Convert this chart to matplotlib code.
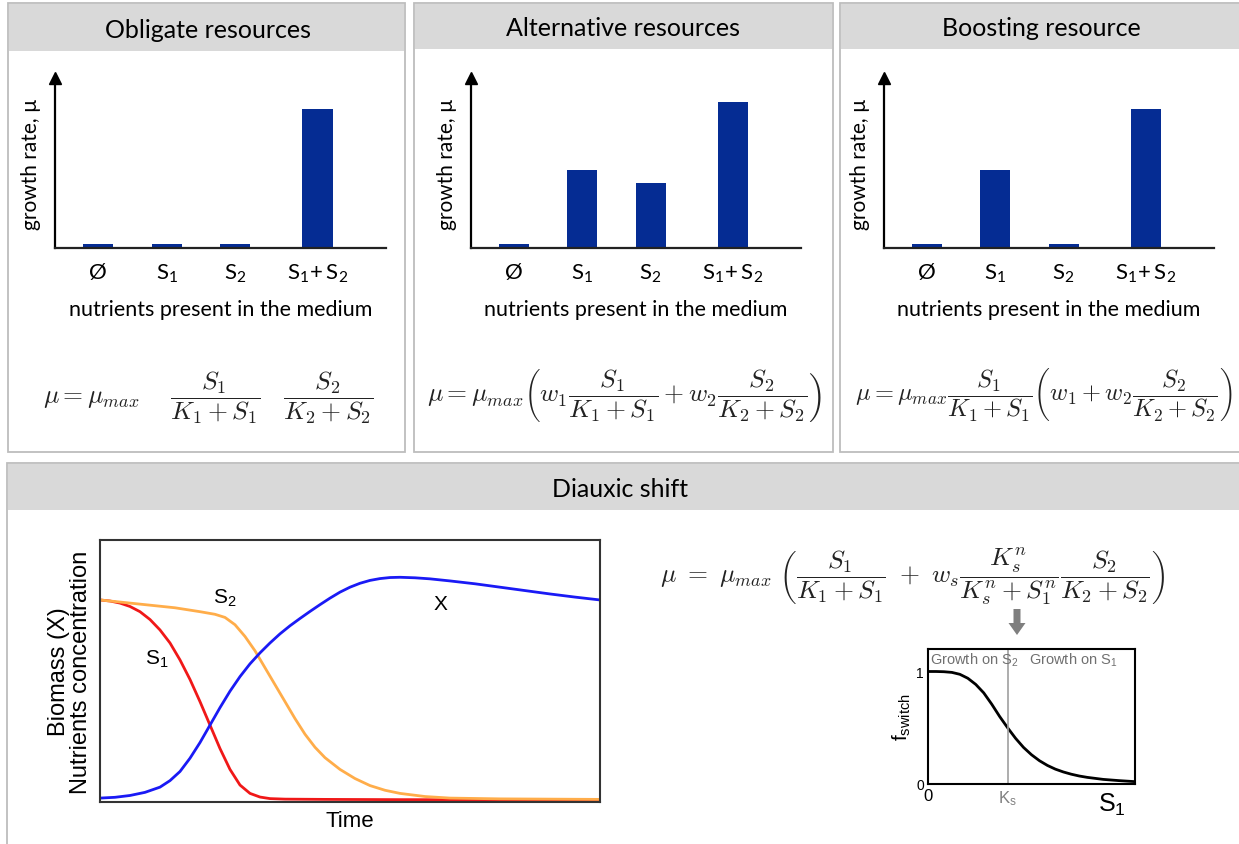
import matplotlib
matplotlib.use("Agg")
import matplotlib.pyplot as plt
from matplotlib.patches import Rectangle

# ---------------- data ----------------
categories = ["Ø", r"$\mathregular{S_1}$", r"$\mathregular{S_2}$", r"$\mathregular{S_1\!+S_2}$"]
obligate_mu = [0.024, 0.024, 0.024, 0.82]
alternative_mu = [0.024, 0.46, 0.38, 0.86]
boosting_mu = [0.024, 0.46, 0.024, 0.82]
panel_titles = ["Obligate resources", "Alternative resources", "Boosting resource"]

s1_time = [0, 2, 4, 6, 8, 10, 12, 14, 16, 18, 20, 22, 24, 26, 28, 30, 32, 34, 37, 45, 60, 100]
s1_conc = [0.77, 0.766, 0.758, 0.745, 0.725, 0.695, 0.655, 0.605, 0.54, 0.465, 0.38, 0.29,
           0.20, 0.12, 0.06, 0.028, 0.014, 0.008, 0.006, 0.005, 0.004, 0.003]
s2_time = [0, 5, 10, 15, 20, 23, 25, 27, 29, 31, 33, 35, 37, 39, 41, 43, 45, 48, 51, 54,
           57, 60, 65, 70, 80, 100]
s2_conc = [0.77, 0.76, 0.75, 0.74, 0.725, 0.715, 0.703, 0.675, 0.63, 0.575, 0.51, 0.445,
           0.38, 0.315, 0.255, 0.205, 0.165, 0.12, 0.085, 0.058, 0.04, 0.028, 0.016, 0.01,
           0.007, 0.005]
x_time = [0, 3, 6, 9, 12, 14, 16, 18, 20, 22, 24, 26, 28, 30, 32, 34, 36, 38, 40, 42, 44,
          46, 48, 50, 52, 54, 56, 58, 60, 63, 66, 70, 75, 80, 85, 90, 95, 100]
x_biomass = [0.01, 0.013, 0.02, 0.032, 0.052, 0.077, 0.112, 0.163, 0.223, 0.29, 0.357,
             0.42, 0.476, 0.525, 0.567, 0.605, 0.64, 0.671, 0.699, 0.726, 0.752, 0.777,
             0.80, 0.819, 0.834, 0.845, 0.852, 0.856, 0.857, 0.855, 0.851, 0.843, 0.832,
             0.819, 0.806, 0.793, 0.781, 0.77]

switch_s1 = [0, 0.1, 0.2, 0.3, 0.4, 0.5, 0.6, 0.7, 0.8, 0.9, 1.0, 1.1, 1.2, 1.3, 1.4, 1.5,
             1.6, 1.7, 1.8, 1.9, 2.0, 2.2, 2.4, 2.6]
switch_f = [1.0, 1.0, 0.998, 0.992, 0.975, 0.94, 0.885, 0.81, 0.71, 0.60, 0.50, 0.406,
            0.325, 0.26, 0.207, 0.165, 0.132, 0.107, 0.087, 0.071, 0.059, 0.041, 0.03, 0.021]
Ks = 1.0

# ---------------- figure ----------------
W, H = 1239, 845
fig = plt.figure(figsize=(W / 100, H / 100), dpi=100)
plt.rcParams["mathtext.fontset"] = "custom"
plt.rcParams["mathtext.rm"] = "Lato"
plt.rcParams["mathtext.it"] = "Lato:italic"

UI = ["Lato", "DejaVu Sans"]
HELV = ["Liberation Sans", "DejaVu Sans"]


def box(x0, y0, x1, y1):
    return [x0 / W, 1 - y1 / H, (x1 - x0) / W, (y1 - y0) / H]


bg = fig.add_axes([0, 0, 1, 1])
bg.set_xlim(0, W)
bg.set_ylim(H, 0)
bg.axis("off")

panels = [(8, 4, 405, 453, 52), (414, 4, 833, 453, 50), (840, 4, 1250, 453, 50),
          (7, 464, 1250, 860, 511)]
for (x0, y0, x1, y1, hy) in panels:
    bg.add_patch(Rectangle((x0, y0), x1 - x0, y1 - y0, facecolor="white",
                           edgecolor="#bdbdbd", lw=1.3))
    bg.add_patch(Rectangle((x0 + 1, y0 + 1), x1 - x0 - 2, hy - y0 - 1,
                           facecolor="#d9d9d9", edgecolor="none"))

title_pos = [(208, 30), (623, 28), (1041, 28)]
for t, (tx, ty) in zip(panel_titles, title_pos):
    bg.text(tx, ty, t, ha="center", va="center", fontsize=18, family=UI)
bg.text(620, 490, "Diauxic shift", ha="center", va="center", fontsize=18, family=UI)

# ---------------- bar panels ----------------
positions = [0, 1, 2, 3.2]
bar_color = "#052c93"
bar_axes_px = [(55, 386), (471, 801), (884, 1214)]
all_values = [obligate_mu, alternative_mu, boosting_mu]
for (xl, xr), vals in zip(bar_axes_px, all_values):
    ax = fig.add_axes(box(xl, 79, xr, 249))
    ax.bar(positions, vals, width=0.44, color=bar_color)
    ax.set_xlim(-0.63, 4.2)
    ax.set_ylim(0, 1)
    for s in ["top", "right"]:
        ax.spines[s].set_visible(False)
    ax.spines["left"].set_linewidth(1.6)
    ax.spines["bottom"].set_linewidth(1.6)
    ax.spines["bottom"].set_color("#222222")
    ax.plot([0], [1], marker="^", color="black", markersize=8, transform=ax.transAxes,
            clip_on=False)
    ax.set_yticks([])
    ax.set_xticks(positions)
    ax.set_xticklabels(categories, fontsize=16, family=UI)
    ax.tick_params(axis="x", length=0, pad=10)
    ax.set_xlabel("nutrients present in the medium", fontsize=15.5, family=UI, labelpad=11)
    ax.set_ylabel("growth rate, µ", fontsize=15, family=UI, labelpad=10)

eqs = [
    (208, 398, 18.5, r"$\mu = \mu_{max}\quad\ \dfrac{S_1}{K_1+S_1}\quad\dfrac{S_2}{K_2+S_2}$"),
    (624, 396, 18.5, r"$\mu = \mu_{max}\left(w_1\dfrac{S_1}{K_1+S_1}+w_2\dfrac{S_2}{K_2+S_2}\right)$"),
    (1044, 396, 17.6, r"$\mu = \mu_{max}\dfrac{S_1}{K_1+S_1}\left(w_1+w_2\dfrac{S_2}{K_2+S_2}\right)$"),
    (912, 577, 18.5, r"$\mu\ =\ \mu_{max}\ \left(\dfrac{S_1}{K_1+S_1}\ +\ w_s\dfrac{K_s^n}{K_s^n+S_1^n}\dfrac{S_2}{K_2+S_2}\right)$"),
]
for ex, ey, fs, e in eqs:
    bg.text(ex, ey, e, ha="center", va="center", fontsize=fs, math_fontfamily="cm",
            color="#222222")

# gray arrow
bg.arrow(1017, 610, 0, 26, width=7, head_width=17, head_length=12,
         length_includes_head=True, color="#7f7f7f", lw=0)

# ---------------- diauxic plot ----------------
ax2 = fig.add_axes(box(100, 541, 600, 803))
ax2.plot(s1_time, s1_conc, color="#f01818", lw=2)
ax2.plot(s2_time, s2_conc, color="#ffad4a", lw=2)
ax2.plot(x_time, x_biomass, color="#1a1af5", lw=2)
ax2.set_xlim(0, 100)
ax2.set_ylim(-0.005, 1)
ax2.set_xticks([])
ax2.set_yticks([])
for s in ax2.spines.values():
    s.set_linewidth(1.5)
    s.set_color("#333333")
ax2.set_xlabel("Time", fontsize=16, family=HELV, labelpad=6)
ax2.set_ylabel("Biomass (X)\nNutrients concentration", fontsize=17, family=HELV,
               labelpad=6, linespacing=1.0)
ax2.text(25, 0.78, r"$\mathregular{S_2}$", fontsize=15, family=HELV, ha="center", va="center")
ax2.text(11.4, 0.546, r"$\mathregular{S_1}$", fontsize=15, family=HELV, ha="center", va="center")
ax2.text(68, 0.756, "X", fontsize=15, family=HELV, ha="center", va="center")

# ---------------- switch function ----------------
ax3 = fig.add_axes(box(928, 650, 1135, 785))
ax3.plot(switch_s1, switch_f, color="black", lw=2)
ax3.axvline(Ks, color="#a0a0a0", lw=1.2)
ax3.set_xlim(0, 2.6)
ax3.set_ylim(0, 1.2)
ax3.set_yticks([0, 1])
ax3.set_yticklabels(["0", "1"], fontsize=10, family=HELV)
ax3.set_xticks([0, Ks])
ax3.set_xticklabels(["0", r"$\mathregular{K_s}$"], fontsize=12, family=HELV)
ax3.get_xticklabels()[1].set_color("#808080")
ax3.tick_params(length=0, pad=3)
for s in ax3.spines.values():
    s.set_linewidth(1.5)
ax3.set_ylabel(r"$\mathregular{f_{switch}}$", fontsize=15, family=HELV, labelpad=2)
ax3.text(0.02, 1.11, r"Growth on $\mathregular{S_2}$", fontsize=10.5, family=HELV,
         color="#707070", va="center", ha="left")
ax3.text(1.27, 1.11, r"Growth on $\mathregular{S_1}$", fontsize=10.5, family=HELV,
         color="#707070", va="center", ha="left")
bg.text(1112, 805, r"$\mathregular{S_1}$", fontsize=18, family=HELV, ha="center", va="center")

fig.savefig("out.png", dpi=100)
